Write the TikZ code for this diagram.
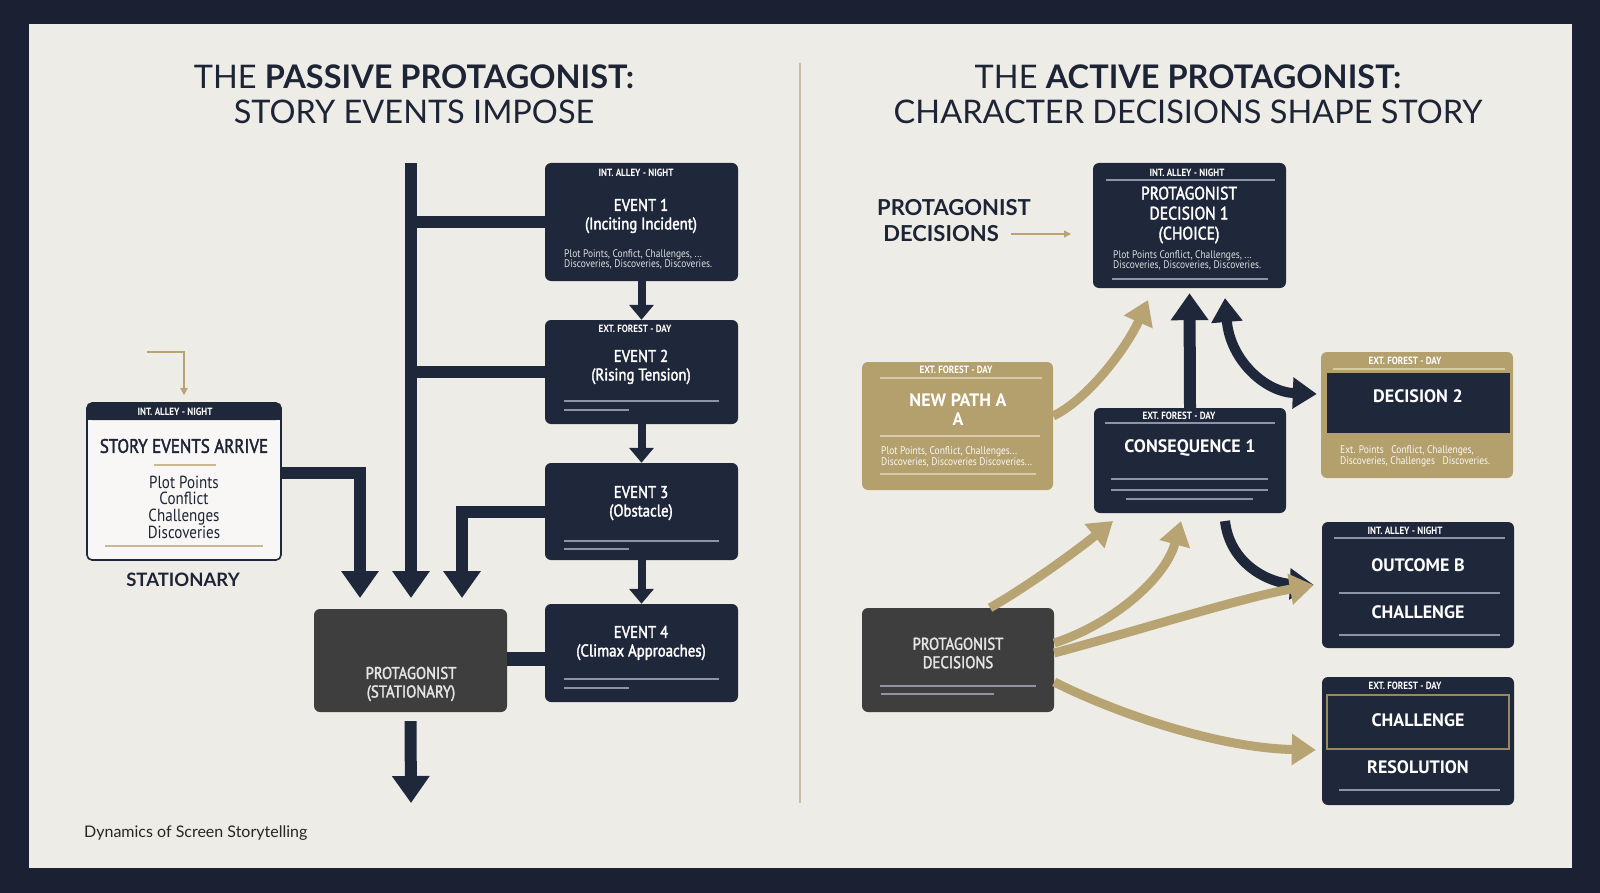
\documentclass[tikz,border=0pt]{standalone}
\usepackage{fontspec}
\setmainfont{PT Sans}
\newfontfamily\titlefont{Lato}
\newfontfamily\boxfont[FakeStretch=0.86]{PT Sans}
\newfontfamily\boxmed[FakeStretch=0.87,FakeBold=2]{PT Sans}
\usetikzlibrary{arrows.meta}
\definecolor{framec}{HTML}{1B2132}
\definecolor{paper}{HTML}{EEECE7}
\definecolor{navy}{HTML}{1F273A}
\definecolor{greyb}{HTML}{3E3E3E}
\definecolor{tanfill}{HTML}{B4A06D}
\definecolor{tanarr}{HTML}{B8A472}
\definecolor{rulec}{HTML}{8C94A6}
\definecolor{tanrulec}{HTML}{C9B891}
\definecolor{tanlight}{HTML}{D6CAA8}
\definecolor{dividerc}{HTML}{C8BEA8}
\definecolor{titlec}{HTML}{1D2435}
\begin{document}
\begin{tikzpicture}[x=1pt,y=-1pt,
  navybox/.style={fill=navy, rounded corners=6pt, inner sep=0, minimum width=193},
  greybox/.style={fill=greyb, rounded corners=6pt, inner sep=0, minimum width=193},
  tanbox/.style={fill=tanfill, rounded corners=6pt, inner sep=0, minimum width=192},
  storybox/.style={fill=white!60!paper, draw=navy, line width=1.6, rounded corners=5pt, inner sep=0, minimum width=194, minimum height=157},
  title/.style={font=\titlefont\fontsize{32.5}{34}\selectfont, text=titlec, inner sep=0},
  hdr/.style={font=\boxfont\bfseries\fontsize{10.5}{11}\selectfont, text=white, inner sep=0},
  ttl/.style={font=\boxmed\fontsize{17}{18.5}\selectfont, text=white, inner sep=0, align=center},
  ttlb/.style={font=\bfseries\fontsize{18}{19}\selectfont, text=white, inner sep=0, align=center},
  bodyt/.style={font=\boxfont\fontsize{11}{10.5}\selectfont, text=white!85!navy, inner sep=0, align=left, anchor=west},
  rulel/.style={draw=rulec, line width=1.2},
  tanrule/.style={draw=tanrulec, line width=1.5},
  lightrule/.style={draw=tanlight, line width=1.2},
  navyline/.style={draw=navy, line width=12},
  navyarrow/.style={draw=navy, line width=12, -{Triangle[width=36pt,length=27pt]}},
  navycurve/.style={draw=navy, line width=10, -{Triangle[width=30pt,length=24pt]}},
  navycurveboth/.style={draw=navy, line width=10, {Triangle[width=30pt,length=24pt]}-{Triangle[width=30pt,length=24pt]}},
  smallarrow/.style={draw=navy, line width=8, -{Triangle[width=24pt,length=15pt]}},
  tanarrow/.style={draw=tanarr, line width=9, -{Triangle[width=30pt,length=24pt]}},
  tanthin/.style={draw=tanarr, line width=1.4, -{Triangle[width=7pt,length=7pt]}}
]
\useasboundingbox (0,0) rectangle (1600,893);
\fill[framec] (0,0) rectangle (1600,893);
\fill[paper] (29,24) rectangle (1572,868);

% titles
\node[title] (t1a) at (414,77) {THE \textbf{PASSIVE PROTAGONIST:}};
\node[title] (t1b) at (414,112) {STORY EVENTS IMPOSE};
\node[title] (t2a) at (1188,77) {THE \textbf{ACTIVE PROTAGONIST:}};
\node[title] (t2b) at (1188,112) {CHARACTER DECISIONS SHAPE STORY};

% divider
\coordinate (dv1) at (800,63);
\coordinate (dv2) at (800,803);
\draw[dividerc, line width=1.3] (dv1) -- (dv2);

% ---------- LEFT ----------
\node[navybox, minimum height=118] (e1) at (641.5,222) {};
\node[navybox, minimum height=104] (e2) at (641.5,372) {};
\node[navybox, minimum height=97] (e3) at (641.5,511.5) {};
\node[navybox, minimum height=98] (e4) at (641.5,653) {};
\node[greybox, minimum height=103] (ps) at (410.5,660.5) {};
\node[storybox] (se) at (184,481.5) {};
\fill[navy, rounded corners=5pt] (87,403) rectangle (281,420);
\fill[navy] (87,411) rectangle (281,420);

\node[hdr] (e1h) at (636,173) {INT. ALLEY - NIGHT};
\node[ttl] (e1t) at (641,216) {EVENT 1\\(Inciting Incident)};
\node[bodyt] (e1b) at (564,259.5) {Plot Points, Confict, Challenges, ...\\Discoveries, Discoveries, Discoveries.};

\node[hdr] (e2h) at (635,329) {EXT. FOREST - DAY};
\node[ttl] (e2t) at (641,367) {EVENT 2\\(Rising Tension)};
\draw[rulel] (564,401) -- (719,401);
\draw[rulel] (564,410) -- (629,410);

\node[ttl] (e3t) at (641,503) {EVENT 3\\(Obstacle)};
\draw[rulel] (564,541) -- (719,541);
\draw[rulel] (564,549) -- (629,549);

\node[ttl] (e4t) at (641,643) {EVENT 4\\(Climax Approaches)};
\draw[rulel] (564,679) -- (719,679);
\draw[rulel] (564,688) -- (629,688);

\node[ttl, text=white!90!black] (pst) at (411,684) {PROTAGONIST\\(STATIONARY)};

\node[hdr] (seh) at (175,412) {INT. ALLEY - NIGHT};
\node[font=\boxmed\fontsize{19.5}{21}\selectfont, text=titlec, inner sep=0] (set) at (184,446) {STORY EVENTS ARRIVE};
\draw[tanrule] (154,465) -- (216,465);
\node[font=\boxfont\fontsize{17.5}{16.7}\selectfont, text=titlec, inner sep=0, align=center] (sel) at (184,507) {Plot Points\\Conflict\\Challenges\\Discoveries};
\draw[tanrule] (105,546) -- (263,546);
\node[font=\titlefont\bfseries\fontsize{18.5}{20}\selectfont, text=titlec, inner sep=0] (stat) at (183,580) {STATIONARY};

% left connectors
\coordinate (trunktop) at (411,163);
\coordinate (trunkend) at (411,598);
\draw[navyarrow] (trunktop) -- (trunkend);
\draw[navyline] (e1.west) -- (e1.west -| trunktop);
\draw[navyline] (e2.west) -- (e2.west -| trunktop);
\coordinate (e3end) at (462,598);
\draw[navyarrow] (e3.west) -| (e3end);
\coordinate (seend) at (360,598);
\draw[navyarrow] ([yshift=9pt]se.east) -| (seend);
\coordinate (e4c) at ([yshift=-6pt]e4.west);
\draw[navyline, line width=14] (e4c) -- (e4c -| ps.east);
\draw[smallarrow] (e1.south) -- (e2.north);
\draw[smallarrow] (e2.south) -- (e3.north);
\draw[smallarrow] (e3.south) -- (e4.north);
\coordinate (psend) at (411,803);
\draw[navyarrow] ([yshift=-9pt]ps.south) -- (psend);
\coordinate (sastart) at (147,352);
\draw[tanthin] (sastart) -| ([yshift=7pt]se.north);

% footer
\node[font=\titlefont\fontsize{16}{18}\selectfont, text=black!85, inner sep=0, anchor=west] (foot) at (84,833) {Dynamics of Screen Storytelling};

% ---------- RIGHT ----------
\node[font=\titlefont\bfseries\fontsize{22}{23}\selectfont, text=titlec, inner sep=0] (pl1) at (954,208) {PROTAGONIST};
\node[font=\titlefont\bfseries\fontsize{22}{23}\selectfont, text=titlec, inner sep=0] (pl2) at (941,234) {DECISIONS};
\coordinate (pl2end) at (1071,234);
\draw[tanthin] ([xshift=12pt]pl2.east) -- (pl2end);

\node[navybox, minimum height=125] (d1) at (1189.5,225.5) {};
\node[tanbox, minimum height=128, minimum width=191] (np) at (957.5,426) {};
\node[navybox, minimum height=105, minimum width=192] (cons) at (1190,460.5) {};
\node[tanbox, minimum height=126] (d2) at (1417,415) {};
\node[navybox, minimum height=126, minimum width=192] (ob) at (1418,585) {};
\node[navybox, minimum height=128, minimum width=192] (ch) at (1418,741) {};
\node[greybox, minimum height=104, minimum width=192] (pd) at (958,660) {};

% decision 1
\node[hdr] (d1h) at (1187,173) {INT. ALLEY - NIGHT};
\draw[rulel] (1106,180) -- (1275,180);
\node[ttl, font=\boxmed\fontsize{18}{20}\selectfont] (d1t) at (1189,215) {PROTAGONIST\\DECISION 1\\(CHOICE)};
\node[bodyt] (d1b) at (1113,260.5) {Plot Points Conflict, Challenges, ...\\Discoveries, Discoveries, Discoveries.};
\draw[rulel] (1112,279) -- (1268,279);

% new path A
\node[hdr] (nph) at (956,370) {EXT. FOREST - DAY};
\draw[lightrule] (880,378) -- (1042,378);
\node[ttlb] (npt) at (958,410) {NEW PATH A\\A};
\draw[lightrule] (880,436) -- (1040,436);
\node[bodyt, text=white!92!tanfill] (npb) at (881,457) {Plot Points, Conflict, Challenges...\\Discoveries, Discoveries Discoveries...};
\draw[lightrule] (880,474) -- (1036,474);

% consequence 1
\node[hdr] (cnh) at (1179,416) {EXT. FOREST - DAY};
\draw[rulel] (1105,423) -- (1275,423);
\node[ttlb] (cnt) at (1190,448) {CONSEQUENCE 1};
\draw[rulel] (1111,479) -- (1268,479);
\draw[rulel] (1111,490) -- (1268,490);
\draw[rulel] (1126,499) -- (1253,499);

% decision 2
\node[hdr] (d2h) at (1405,361) {EXT. FOREST - DAY};
\draw[lightrule] (1333,369) -- (1505,369);
\fill[navy] (1327,373) rectangle (1510,433);
\node[ttlb] (d2t) at (1418,396) {DECISION 2};
\node[bodyt, text=white!92!tanfill] (d2b) at (1340,456) {Ext. Points \ \ Conflict, Challenges,\\Discoveries, Challenges \ \ Discoveries.};

% outcome B
\node[hdr] (obh) at (1405,531) {INT. ALLEY - NIGHT};
\draw[rulel] (1334,538) -- (1505,538);
\node[ttlb] (obt) at (1418,565) {OUTCOME B};
\draw[rulel] (1339,593) -- (1500,593);
\node[ttlb] (obc) at (1418,612) {CHALLENGE};
\draw[rulel] (1339,635) -- (1500,635);

% challenge / resolution
\node[hdr] (chh) at (1405,686) {EXT. FOREST - DAY};
\draw[draw=tanfill!85!black, line width=1.6] (1327,695) rectangle (1509,749);
\node[ttlb] (cht) at (1418,720) {CHALLENGE};
\node[ttlb] (chr) at (1418,767) {RESOLUTION};
\draw[rulel] (1339,790) -- (1500,790);

% protagonist decisions
\node[ttl, text=white!90!black] (pdt) at (958,653) {PROTAGONIST\\DECISIONS};
\draw[rulel] (880,686) -- (1036,686);
\draw[rulel] (881,694) -- (994,694);

% right arrows
\coordinate (d1tip) at ([yshift=-5pt]d1.south);
\draw[navyarrow] (cons.north) -- (d1tip);
\coordinate (nptip) at (1148,300);
\draw[tanarrow] ([yshift=10pt]np.east) .. controls (1090,398) and (1128,345) .. (nptip);
\coordinate (d1b) at (1225,298);
\draw[navycurveboth] (d1b) .. controls (1230,360) and (1265,392) .. ([xshift=-4pt,yshift=21pt]d2.west);
\coordinate (consb) at (1225,521);
\draw[navycurve] (consb) .. controls (1230,565) and (1270,583) .. ([xshift=-8pt]ob.west);
\coordinate (ct1) at (1113,521);
\draw[tanarrow] ([xshift=32pt]pd.north) .. controls (1030,585) and (1080,548) .. (ct1);
\coordinate (ct2) at (1181,521);
\draw[tanarrow] ([yshift=17pt]pd.east) .. controls (1110,625) and (1165,580) .. (ct2);
\draw[tanarrow] ([yshift=7pt]pd.east) .. controls (1140,630) and (1240,598) .. ([xshift=-8pt]ob.west);
\draw[tanarrow] ([yshift=-22pt]pd.east) .. controls (1120,715) and (1220,748) .. ([xshift=-6pt,yshift=-9pt]ch.west);
\end{tikzpicture}
\end{document}
